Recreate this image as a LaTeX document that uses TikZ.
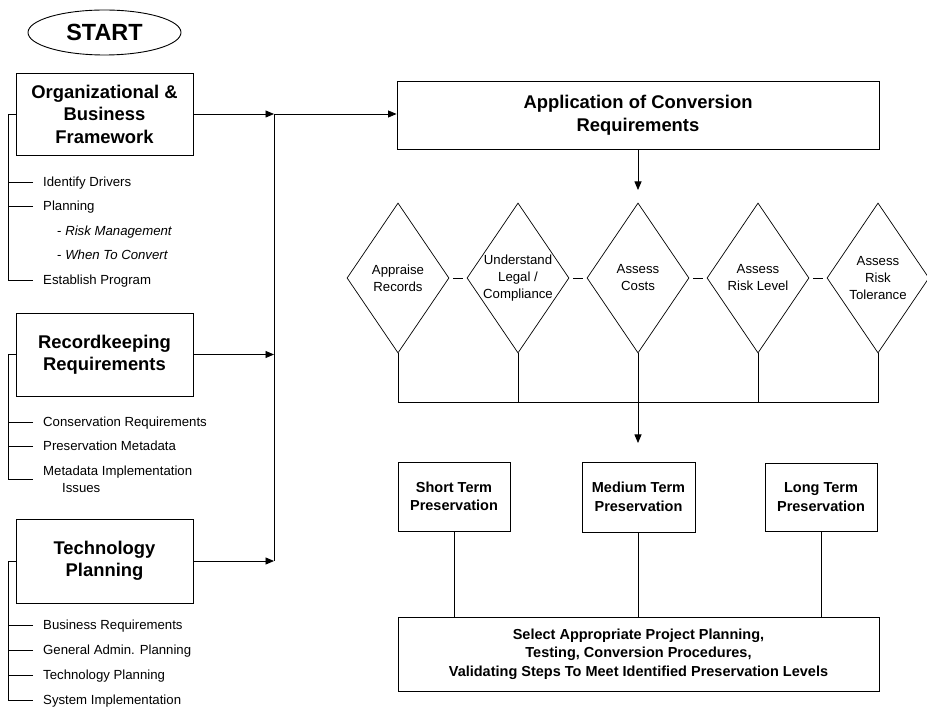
\documentclass[tikz,border=0pt]{standalone}
\usepackage{fontspec}
\setmainfont{Liberation Sans}
\usetikzlibrary{arrows.meta,shapes.geometric}
\tikzset{
 box/.style={draw, line width=0.9pt, inner sep=0pt, align=center},
 bigtitle/.style={font=\fontsize{18.4pt}{22.5pt}\selectfont\bfseries},
 midtitle/.style={font=\fontsize{14.5pt}{18.5pt}\selectfont\bfseries},
 itembase/.style={anchor=west, inner sep=0pt, font=\fontsize{13.2pt}{17pt}\selectfont},
 item/.style={itembase, text height=9.5pt, text depth=0pt},
 dia/.style={draw, diamond, line width=0.7pt, inner sep=0pt, minimum width=102pt, minimum height=150pt},
 dtext/.style={font=\fontsize{13.2pt}{17pt}\selectfont, align=center, inner sep=0pt},
 line/.style={line width=0.8pt},
 arr/.style={line width=0.8pt, -{Triangle[length=8.5pt,width=7pt]}},
}
\begin{document}
\begin{tikzpicture}[x=1pt,y=-1pt]
\path[use as bounding box] (0,0) rectangle (927,708);

% start
\node[draw, ellipse, line width=0.9pt, minimum width=153pt, minimum height=45pt, inner sep=0pt,
      font=\fontsize{23.4pt}{28pt}\selectfont\bfseries] (start) at (104.5,32.5) {START};

% left boxes
\node[box, bigtitle, minimum width=177pt, minimum height=82pt] (org) at (104.5,114) {Organizational \&\\Business\\Framework};
\node[box, bigtitle, minimum width=177pt, minimum height=83pt] (rec) at (104.5,354.5) {Recordkeeping\\Requirements};
\node[box, bigtitle, minimum width=177pt, minimum height=84pt] (tech) at (104.5,561) {Technology\\Planning};

% org items
\node[item] (i1) at (43,182) {Identify Drivers};
\node[item] (i2) at (43,206) {Planning};
\node[item] (i3) at (57,231) {- \textit{Risk Management}};
\node[item] (i4) at (57,255) {- \textit{When To Convert}};
\node[item] (i5) at (43,280) {Establish Program};
\draw[line] (org.west) -| ([xshift=-35pt]i5.west) -- ([xshift=-10pt]i5.west);
\foreach \n in {i1,i2}{\draw[line] ([xshift=-10pt]\n.west) -- ([xshift=-35pt]\n.west);}

% rec items
\node[item] (r1) at (43,422) {Conservation Requirements};
\node[item] (r2) at (43,446) {Preservation Metadata};
\node[itembase, align=left] (r3) at (43,479) {Metadata Implementation\\\hspace*{19pt}Issues};
\draw[line] (rec.west) -| ([xshift=-35pt]r3.west) -- ([xshift=-10pt]r3.west);
\foreach \n in {r1,r2}{\draw[line] ([xshift=-10pt]\n.west) -- ([xshift=-35pt]\n.west);}

% tech items
\node[item] (t1) at (43,625) {Business Requirements};
\node[item] (t2) at (43,650) {General Admin. Planning};
\node[item] (t3) at (43,675) {Technology Planning};
\node[item] (t4) at (43,700) {System Implementation};
\draw[line] (tech.west) -| ([xshift=-35pt]t4.west) -- ([xshift=-10pt]t4.west);
\foreach \n in {t1,t2,t3}{\draw[line] ([xshift=-10pt]\n.west) -- ([xshift=-35pt]\n.west);}

% application box
\node[box, bigtitle, minimum width=482pt, minimum height=68pt] (app) at (638,115) {Application of Conversion\\Requirements};

% collector
\coordinate (j1) at (274,114);
\draw[arr] (org.east) -- (j1);
\draw[arr] (rec.east) -- (rec.east -| j1);
\draw[arr] (tech.east) -- (tech.east -| j1);
\draw[line] (j1) -- (tech.east -| j1);
\draw[arr] (j1) -- (app.west |- j1);

% diamonds
\node[dia, label={[dtext]center:Appraise\\Records}] (d1) at (398,278) {};
\node[dia, label={[dtext]center:Understand\\Legal /\\Compliance}] (d2) at (518,278) {};
\node[dia, label={[dtext]center:Assess\\Costs}] (d3) at (638,278) {};
\node[dia, label={[dtext]center:Assess\\Risk Level}] (d4) at (758,278) {};
\node[dia, label={[dtext]center:Assess\\Risk\\Tolerance}] (d5) at (878,278) {};
\foreach \a/\b in {d1/d2,d2/d3,d3/d4,d4/d5}{\draw[line, shorten <=4pt, shorten >=4pt] (\a.east) -- (\b.west);}

\coordinate (t1a) at (638,190);
\draw[arr] (app.south) -- (t1a);

\coordinate (barY) at (0,402);
\draw[line] (d1.south) -- (d1.south |- barY) -- (d5.south |- barY) -- (d5.south);
\draw[line] (d2.south) -- (d2.south |- barY);
\draw[line] (d4.south) -- (d4.south |- barY);
\coordinate (t2a) at (638,443);
\draw[arr] (d3.south) -- (t2a);

% preservation boxes
\node[box, midtitle, minimum width=112pt, minimum height=69pt] (short) at (454,496.5) {Short Term\\Preservation};
\node[box, midtitle, minimum width=113pt, minimum height=70pt] (medium) at (638.5,497) {Medium Term\\Preservation};
\node[box, midtitle, minimum width=112pt, minimum height=68pt] (long) at (821,497) {Long Term\\Preservation};

\node[box, midtitle, minimum width=481pt, minimum height=74pt] (final) at (638.5,654) {Select Appropriate Project Planning,\\Testing, Conversion Procedures,\\Validating Steps To Meet Identified Preservation Levels};

\draw[line] (short.south) -- (short.south |- final.north);
\draw[line] (medium.south) -- (medium.south |- final.north);
\draw[line] (long.south) -- (long.south |- final.north);
\end{tikzpicture}
\end{document}
